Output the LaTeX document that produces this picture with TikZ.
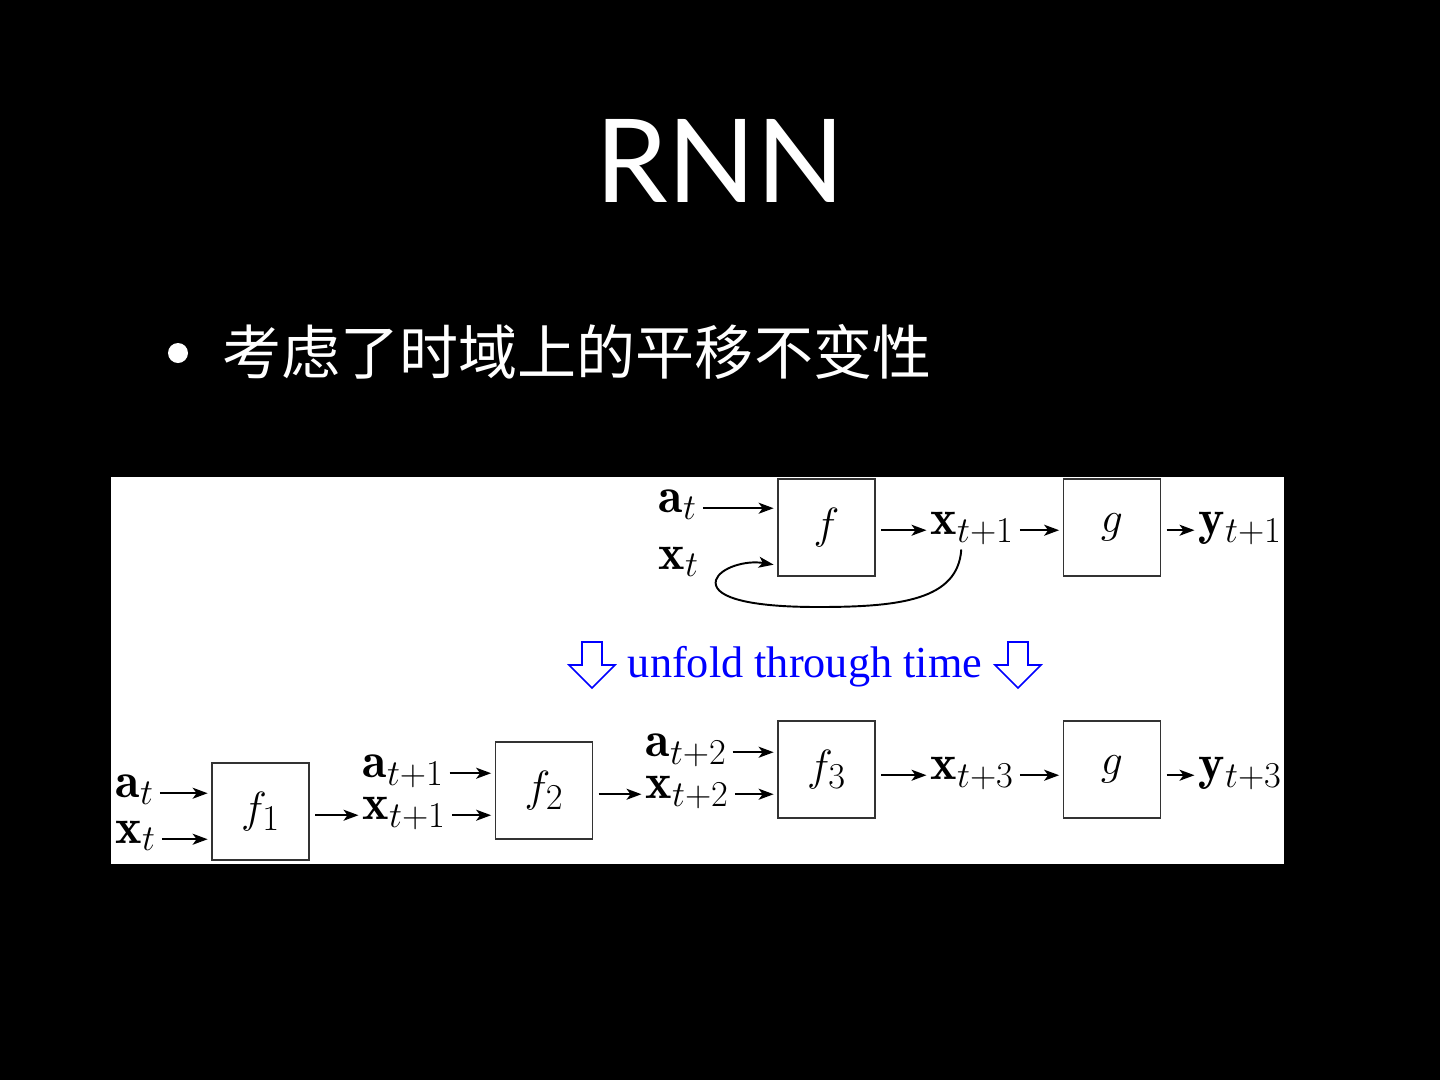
\documentclass[tikz,border=0pt]{standalone}
\usepackage{fontspec}
\newfontfamily\cjkfont{Noto Sans CJK SC}
\newfontfamily\titlefont{Lato}
\newfontfamily\timesfont{Liberation Serif}
\usetikzlibrary{arrows.meta, calc}
\definecolor{cblue}{HTML}{0000FF}
\definecolor{cbox}{HTML}{333333}
\tikzset{
  every picture/.style={line width=0.8pt},
  box/.style={draw=cbox, fill=white, line width=1pt, minimum width=1.94cm, minimum height=1.94cm, inner sep=0pt, font=\fontsize{28.5}{32}\selectfont},
  sym/.style={inner sep=0pt, anchor=base west, font=\fontsize{28.5}{32}\selectfont},
  arrow/.style={-{Stealth[length=0.3cm, width=0.22cm, inset=0.08cm]}, line width=1.1pt, shorten <=3pt, shorten >=2pt},
  hollowdown/.style={draw=cblue, line width=0.9pt, line join=miter},
}
\begin{document}
\begin{tikzpicture}[x=0.02cm, y=-0.02cm]
  \fill[black] (0,0) rectangle (1440,1080);
  \useasboundingbox (0,0) rectangle (1440,1080);
  \node[text=white, font=\titlefont\fontsize{66}{72}\selectfont, anchor=base, inner sep=0pt] (title) at (720,202) {RNN};
  \node[circle, fill=white, minimum size=0.4cm, inner sep=0pt] (dot) at (178,353) {};
  \node[text=white, font=\cjkfont\fontsize{33.6}{40}\selectfont, anchor=west, inner sep=0pt] (point) at (222,352) {考虑了时域上的平移不变性};
  \fill[white] (111,477) rectangle (1284,864);
  % folded network
  \node[box] (f) at (826.5,527.5) {$f$};
  \node[box] (g) at (1112,527.5) {$g$};
  \node[sym] (a) at (658,512) {$\mathbf{a}_t$};
  \node[sym] (x) at (658,569) {$\mathbf{x}_t$};
  \node[sym] (x1) at (930,534) {$\mathbf{x}_{t+1}$};
  \node[sym] (y1) at (1198,534) {$\mathbf{y}_{t+1}$};
  \draw[arrow] (a.mid east) -- (f.west |- a.mid east);
  \draw[arrow] (f.east |- x1.mid west) -- (x1.mid west);
  \draw[arrow] (x1.mid east) -- (g.west |- x1.mid east);
  \draw[arrow] (g.east |- y1.mid west) -- (y1.mid west);
  \draw[arrow, shorten <=0pt] ($(x1.south)+(-11,4)$) .. controls (958,600) and (900,607) .. (818,607) .. controls (740,607) and (712,595) .. (716,580) .. controls (720,568) and (745,560) .. (f.west |- x.mid east);
  % unfold
  \node[text=cblue, font=\timesfont\fontsize{25.2}{30}\selectfont, anchor=base, inner sep=0pt] (unfold) at (805,677) {unfold through time};
  \foreach \c in {592,1018} \draw[hollowdown] (\c-10,642) -- (\c+10,642) -- (\c+10,665) -- (\c+23,665) -- (\c,688) -- (\c-23,665) -- (\c-10,665) -- cycle;
  % unfolded network
  \foreach \n/\x/\y in {1/260.5/811.5, 2/544/790.5, 3/826.5/769.5} \node[box] (f\n) at (\x,\y) {$f_\n$};
  \node[box] (g2) at (1112,769.5) {$g$};
  \node[sym] (ab0) at (115,797) {$\mathbf{a}_t$};
  \node[sym] (xb0) at (115,843) {$\mathbf{x}_t$};
  \node[sym] (ab1) at (362,777) {$\mathbf{a}_{t+1}$};
  \node[sym] (xb1) at (362,819) {$\mathbf{x}_{t+1}$};
  \node[sym] (ab2) at (645,756) {$\mathbf{a}_{t+2}$};
  \node[sym] (xb2) at (645,798) {$\mathbf{x}_{t+2}$};
  \node[sym] (xb3) at (930,779) {$\mathbf{x}_{t+3}$};
  \node[sym] (yb3) at (1198,779) {$\mathbf{y}_{t+3}$};
  \foreach \l/\b in {ab0/f1, xb0/f1, ab1/f2, xb1/f2, ab2/f3, xb2/f3, xb3/g2} \draw[arrow] (\l.mid east) -- (\b.west |- \l.mid east);
  \foreach \b/\l in {f1/xb1, f2/xb2, f3/xb3, g2/yb3} \draw[arrow] (\b.east |- \l.mid west) -- (\l.mid west);
\end{tikzpicture}
\end{document}
